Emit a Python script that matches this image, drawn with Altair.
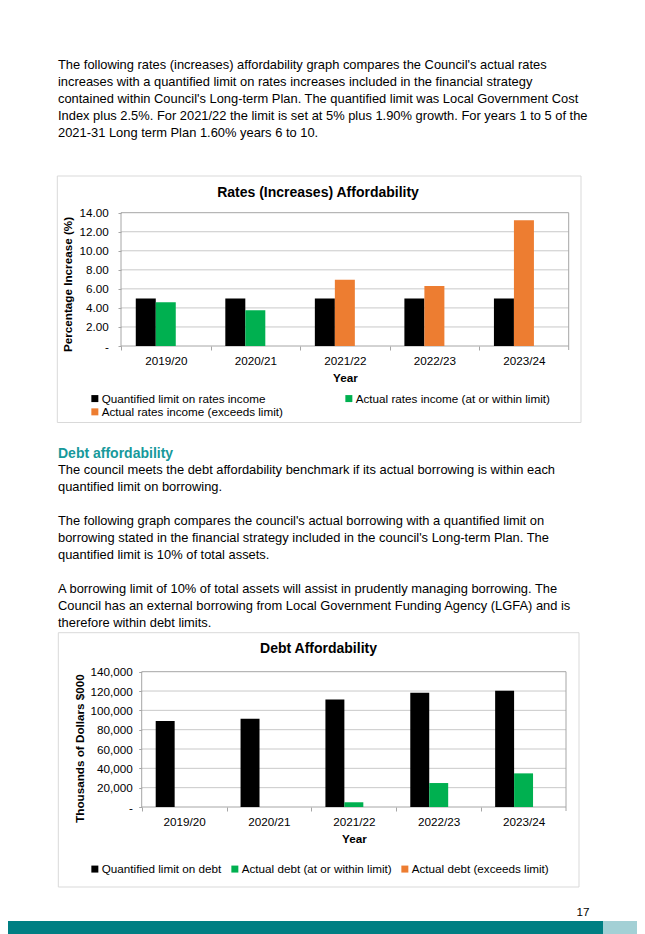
import altair as alt
import pandas as pd

# ---------------- data ----------------
YEARS = ["2019/20", "2020/21", "2021/22", "2022/23", "2023/24"]

RATES_LIMIT = [5.00, 5.00, 5.00, 5.00, 5.00]
RATES_ACTUAL = [4.60, 3.75, 6.95, 6.30, 13.20]
RATES_TICKS = [0, 2, 4, 6, 8, 10, 12, 14]
RATES_SERIES = ["Quantified limit on rates income",
                "Actual rates income (at or within limit)",
                "Actual rates income (exceeds limit)"]

DEBT_LIMIT = [89000, 91400, 111200, 118300, 120300]
DEBT_ACTUAL = [None, None, 4900, 24800, 34800]
DEBT_TICKS = [0, 20000, 40000, 60000, 80000, 100000, 120000, 140000]
DEBT_SERIES = ["Quantified limit on debt",
               "Actual debt (at or within limit)",
               "Actual debt (exceeds limit)"]

SERIES_COLORS = ["#000000", "#00B050", "#ED7D31"]
SLOTS = ["limit", "actual", "spare"]

PARA1 = [
    "The following rates (increases) affordability graph compares the Council's actual rates",
    "increases with a quantified limit on rates increases included in the financial strategy",
    "contained within Council's Long-term Plan. The quantified limit was Local Government Cost",
    "Index plus 2.5%. For 2021/22 the limit is set at 5% plus 1.90% growth. For years 1 to 5 of the",
    "2021-31 Long term Plan 1.60% years 6 to 10.",
]
HEADING = "Debt affordability"
PARA2A = [
    "The council meets the debt affordability benchmark if its actual borrowing is within each",
    "quantified limit on borrowing.",
]
PARA2B = [
    "The following graph compares the council's actual borrowing with a quantified limit on",
    "borrowing stated in the financial strategy included in the council's Long-term Plan. The",
    "quantified limit is 10% of total assets.",
]
PARA2C = [
    "A borrowing limit of 10% of total assets will assist in prudently managing borrowing. The",
    "Council has an external borrowing from Local Government Funding Agency (LGFA) and is",
    "therefore within debt limits.",
]
RATES_TITLE = "Rates (Increases) Affordability"
DEBT_TITLE = "Debt Affordability"
PAGE_NO = "17"

# ---------------- tables ----------------
def build(limit, actual, series):
    rows = []
    for yr, lim, act in zip(YEARS, limit, actual):
        rows.append({"year": yr, "slot": "limit", "series": series[0], "value": lim})
        if act is not None:
            s = series[1] if act <= lim else series[2]
            rows.append({"year": yr, "slot": "actual", "series": s, "value": act})
    return pd.DataFrame(rows)

rates_df = build(RATES_LIMIT, RATES_ACTUAL, RATES_SERIES)
debt_df = build(DEBT_LIMIT, DEBT_ACTUAL, DEBT_SERIES)
rates_grid_df = pd.DataFrame({"value": RATES_TICKS[1:-1]})
debt_grid_df = pd.DataFrame({"value": DEBT_TICKS[1:-1]})
one = alt.Data(values=[{}])

FONT = "Liberation Sans, Arial, Helvetica, sans-serif"
W, H = 629, 926
CF = 11.7          # chart font size
GRID = "#C9C9C9"
FRAME = "#A6A6A6"
BOX = "#D9D9D9"


def bar_chart(df, grid_df, ticks, series, xr, yr, dom, fmt, dash, ylab_pad,
              ytitle, ytitle_x, ytitle_y, leg_x, leg_y, leg_cols, leg_colpad):
    step = (xr[1] - xr[0]) / len(YEARS)
    x_enc = alt.X(
        "year:N", sort=YEARS,
        scale=alt.Scale(domain=YEARS, range=list(xr), paddingInner=0.33, paddingOuter=0.165),
        axis=alt.Axis(orient="bottom", offset=-(H - yr[0]), title="Year",
                      titleFont=FONT, titleFontSize=CF, titleFontWeight="bold", titleColor="#000",
                      titleY=31, titleBaseline="middle",
                      labelFont=FONT, labelFontSize=CF, labelColor="#000",
                      labelBaseline="middle", labelPadding=10.7, labelAngle=0,
                      tickSize=4, tickColor=FRAME, tickOffset=-step / 2, labelOffset=step / 2,
                      domain=False, grid=False))
    y_scale = alt.Scale(domain=dom, range=list(yr), nice=False, zero=True)
    y_axis = alt.Axis(orient="left", offset=-xr[0], values=ticks,
                      labelExpr="datum.value == 0 ? '" + dash + "' : format(datum.value, '" + fmt + "')",
                      labelFont=FONT, labelFontSize=CF, labelColor="#000", labelPadding=ylab_pad,
                      tickSize=3, tickColor=FRAME, domain=False, grid=False,
                      title=ytitle, titleFont=FONT, titleFontSize=CF, titleFontWeight="bold",
                      titleColor="#000", titleX=ytitle_x - xr[0], titleY=ytitle_y,
                      titleBaseline="middle", titleAlign="center")
    y_enc = alt.Y("value:Q", scale=y_scale, axis=y_axis)
    grid = alt.Chart(grid_df).mark_rule(color=GRID, strokeWidth=1).encode(
        y=alt.Y("value:Q", scale=y_scale, axis=y_axis),
        x=alt.value(xr[0]), x2=alt.value(xr[1]))
    frame = alt.Chart(one).mark_rect(fillOpacity=0, stroke=FRAME, strokeWidth=1).encode(
        x=alt.value(xr[0]), x2=alt.value(xr[1]), y=alt.value(yr[1]), y2=alt.value(yr[0]))
    end_tick = alt.Chart(one).mark_rule(color=FRAME).encode(
        x=alt.value(xr[1]), y=alt.value(yr[0]), y2=alt.value(yr[0] + 4))
    bars = alt.Chart(df).mark_bar().encode(
        x=x_enc,
        xOffset=alt.XOffset("slot:N", sort=SLOTS, scale=alt.Scale(domain=SLOTS)),
        y=y_enc,
        color=alt.Color("series:N", sort=series,
                        scale=alt.Scale(domain=series, range=SERIES_COLORS),
                        legend=alt.Legend(orient="none", legendX=leg_x, legendY=leg_y,
                                          title=None, columns=leg_cols, direction="horizontal",
                                          symbolType="square", symbolSize=49,
                                          symbolStrokeWidth=0, labelFont=FONT,
                                          labelFontSize=CF, labelColor="#000",
                                          labelLimit=400, labelOffset=1,
                                          columnPadding=leg_colpad, rowPadding=0.5,
                                          padding=0)))
    return alt.layer(grid, frame, end_tick, bars)


rates = bar_chart(rates_df, rates_grid_df, RATES_TICKS, RATES_SERIES,
                  xr=(113, 560.7), yr=(338, 204.7), dom=[0, 14], fmt=".2f",
                  dash="-\u00a0\u00a0", ylab_pad=9.7,
                  ytitle="Percentage Increase (%)", ytitle_x=59.3, ytitle_y=276,
                  leg_x=81, leg_y=384.5, leg_cols=2, leg_colpad=60)

debt = bar_chart(debt_df, debt_grid_df, DEBT_TICKS, DEBT_SERIES,
                 xr=(133.7, 558), yr=(799, 663.7), dom=[0, 140000], fmt=",.0f",
                 dash="-\u00a0", ylab_pad=6.4,
                 ytitle="Thousands of Dollars $000", ytitle_x=71.3, ytitle_y=740,
                 leg_x=81, leg_y=855, leg_cols=3, leg_colpad=7)


def text_block(lines, x, y, size=12.9, weight="normal", color="#000", align="left",
               baseline="alphabetic"):
    return alt.Chart(one).mark_text(
        text=lines, font=FONT, fontSize=size, fontWeight=weight, color=color,
        align=align, baseline=baseline, lineHeight=17).encode(
        x=alt.value(x), y=alt.value(y))


def box(x1, x2, y1, y2, fill=None, stroke=None):
    kw = {}
    if fill is not None:
        kw["fill"] = fill
    else:
        kw["fillOpacity"] = 0
    if stroke is not None:
        kw["stroke"] = stroke
        kw["strokeWidth"] = 1
    return alt.Chart(one).mark_rect(**kw).encode(
        x=alt.value(x1), x2=alt.value(x2), y=alt.value(y1), y2=alt.value(y2))


deco = [
    box(49.3, 573, 168, 414.5, stroke=BOX),
    box(50.3, 571, 624.7, 879, stroke=BOX),
    box(0, 595, 913, 926, fill="#007F83"),
    box(595, 629, 913, 926, fill="#A3D0D5"),
    text_block(PARA1, 50, 60.5),
    text_block([HEADING], 50, 449.5, size=14, weight="bold", color="#17999B"),
    text_block(PARA2A, 50, 465.8),
    text_block(PARA2B, 50, 517.0),
    text_block(PARA2C, 50, 584.8),
    text_block([RATES_TITLE], 310, 185.3, size=14, weight="bold", align="center", baseline="middle"),
    text_block([DEBT_TITLE], 310.5, 641.3, size=14, weight="bold", align="center", baseline="middle"),
    text_block([PAGE_NO], 575, 904, size=CF, align="center", baseline="middle"),
]

chart = alt.layer(*deco, rates, debt).resolve_scale(
    x="independent", y="independent", color="independent", xOffset="independent"
).properties(
    width=W, height=H, padding=0,
    autosize=alt.AutoSizeParams(type="none"),
    background="#ffffff",
).configure_view(stroke=None)

chart.save("out.html", embed_options={"renderer": "svg", "actions": False})
